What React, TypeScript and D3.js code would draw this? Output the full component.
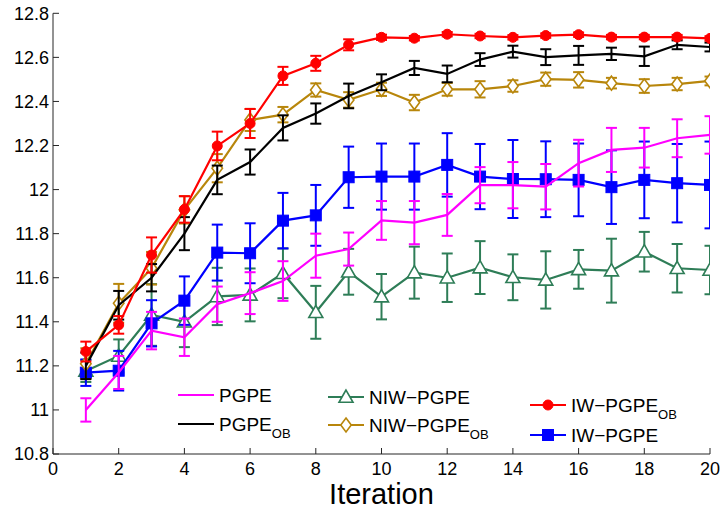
import React from "react";
import * as d3 from "d3";

const iterations = [1, 2, 3, 4, 5, 6, 7, 8, 9, 10, 11, 12, 13, 14, 15, 16, 17, 18, 19, 20];

const pgpe = [11.0, 11.17, 11.36, 11.33, 11.48, 11.53, 11.585, 11.7, 11.73, 11.86, 11.85, 11.885, 12.02, 12.02, 12.013, 12.12, 12.18, 12.19, 12.233, 12.248];
const pgpeErr = [0.053, 0.075, 0.085, 0.085, 0.08, 0.095, 0.09, 0.1, 0.075, 0.088, 0.098, 0.095, 0.082, 0.105, 0.103, 0.106, 0.1, 0.09, 0.086, 0.085];

const pgpeOB = [11.2, 11.475, 11.6, 11.8, 12.044, 12.125, 12.28, 12.345, 12.425, 12.487, 12.552, 12.525, 12.59, 12.626, 12.601, 12.609, 12.616, 12.605, 12.657, 12.647];
const pgpeOBErr = [0.06, 0.065, 0.062, 0.075, 0.065, 0.057, 0.057, 0.046, 0.056, 0.036, 0.032, 0.038, 0.029, 0.027, 0.036, 0.043, 0.028, 0.044, 0.02, 0.02];

const niwPgpe = [11.177, 11.245, 11.431, 11.4, 11.515, 11.522, 11.62, 11.443, 11.627, 11.514, 11.623, 11.6, 11.646, 11.602, 11.59, 11.638, 11.632, 11.718, 11.643, 11.635];
const niwPgpeErr = [0.05, 0.075, 0.14, 0.115, 0.13, 0.12, 0.113, 0.12, 0.104, 0.103, 0.118, 0.11, 0.12, 0.104, 0.13, 0.088, 0.145, 0.09, 0.11, 0.11];

const niwPgpeOB = [11.21, 11.484, 11.643, 11.908, 12.097, 12.316, 12.34, 12.452, 12.407, 12.455, 12.395, 12.455, 12.455, 12.47, 12.501, 12.498, 12.483, 12.47, 12.479, 12.493];
const niwPgpeOBErr = [0.07, 0.088, 0.074, 0.062, 0.064, 0.05, 0.035, 0.03, 0.035, 0.03, 0.035, 0.029, 0.037, 0.026, 0.03, 0.035, 0.024, 0.031, 0.028, 0.02];

const iwPgpeOB = [11.265, 11.386, 11.703, 11.91, 12.198, 12.3, 12.516, 12.573, 12.657, 12.691, 12.687, 12.705, 12.697, 12.691, 12.699, 12.703, 12.692, 12.692, 12.692, 12.686];
const iwPgpeOBErr = [0.045, 0.04, 0.08, 0.06, 0.065, 0.066, 0.041, 0.034, 0.025, 0.012, 0.01, 0.01, 0.01, 0.01, 0.01, 0.01, 0.01, 0.01, 0.01, 0.01];

const iwPgpe = [11.169, 11.178, 11.393, 11.496, 11.714, 11.711, 11.859, 11.883, 12.056, 12.059, 12.059, 12.112, 12.059, 12.048, 12.047, 12.044, 12.011, 12.044, 12.029, 12.021];
const iwPgpeErr = [0.06, 0.09, 0.105, 0.11, 0.127, 0.136, 0.126, 0.138, 0.139, 0.15, 0.15, 0.144, 0.148, 0.177, 0.172, 0.165, 0.167, 0.174, 0.178, 0.197];

const xTicks = [0, 2, 4, 6, 8, 10, 12, 14, 16, 18, 20];
const yTicks = [10.8, 11, 11.2, 11.4, 11.6, 11.8, 12, 12.2, 12.4, 12.6, 12.8];

type Marker = "none" | "circle" | "square" | "triangle" | "diamond";
interface Series { name: string; sub?: string; values: number[]; errs: number[]; color: string; marker: Marker; }

const MAGENTA = "#ff00ff";
const BLACK = "#000000";
const GREEN = "#2e7d57";
const GOLD = "#b8860b";
const RED = "#ff0000";
const BLUE = "#0000ff";

const series: Series[] = [
  { name: "NIW−PGPE", values: niwPgpe, errs: niwPgpeErr, color: GREEN, marker: "triangle" },
  { name: "IW−PGPE", values: iwPgpe, errs: iwPgpeErr, color: BLUE, marker: "square" },
  { name: "PGPE", values: pgpe, errs: pgpeErr, color: MAGENTA, marker: "none" },
  { name: "NIW−PGPE", sub: "OB", values: niwPgpeOB, errs: niwPgpeOBErr, color: GOLD, marker: "diamond" },
  { name: "PGPE", sub: "OB", values: pgpeOB, errs: pgpeOBErr, color: BLACK, marker: "none" },
  { name: "IW−PGPE", sub: "OB", values: iwPgpeOB, errs: iwPgpeOBErr, color: RED, marker: "circle" },
];

const W = 721, H = 509;
const X0 = 53, X1 = 710, Y0 = 454, Y1 = 13.3;
const FONT = "'Liberation Sans', Arial, Helvetica, sans-serif";

function MarkerShape({ type, cx, cy, color }: { type: Marker; cx: number; cy: number; color: string }) {
  if (type === "circle") return <circle cx={cx} cy={cy} r={5} fill={color} stroke={color} strokeWidth={1} />;
  if (type === "square") return <rect x={cx - 5.5} y={cy - 5.5} width={11} height={11} fill={color} stroke={color} strokeWidth={1} />;
  if (type === "triangle") {
    const s = 7;
    return <polygon points={`${cx},${cy - s} ${cx - s},${cy + s * 0.75} ${cx + s},${cy + s * 0.75}`} fill="#fff" stroke={color} strokeWidth={1.6} />;
  }
  if (type === "diamond") {
    const s = 7;
    return <polygon points={`${cx},${cy - s} ${cx + s * 0.75},${cy} ${cx},${cy + s} ${cx - s * 0.75},${cy}`} fill="#fff" stroke={color} strokeWidth={1.6} />;
  }
  return null;
}

export default function App() {
  const x = d3.scaleLinear().domain([0, 20]).range([X0, X1]);
  const y = d3.scaleLinear().domain([10.8, 12.8]).range([Y0, Y1]);
  const line = d3.line<number>().x((_, i) => x(iterations[i])).y((v) => y(v));
  const cap = 5.5;
  const fmt = (v: number) => String(Math.round(v * 10) / 10);

  const legend = [
    { s: series[2], lx: 178, ly: 395 },
    { s: series[4], lx: 178, ly: 424 },
    { s: series[0], lx: 328, ly: 397 },
    { s: series[3], lx: 328, ly: 425 },
    { s: series[5], lx: 530, ly: 405 },
    { s: series[1], lx: 530, ly: 435 },
  ];

  return (
    <svg width={W} height={H} style={{ position: "absolute", left: 0, top: 0, background: "#fff" }} fontFamily={FONT}>
      <defs>
        <clipPath id="plot">
          <rect x={X0} y={0} width={X1 - X0} height={Y0} />
        </clipPath>
      </defs>
      <rect x={0} y={0} width={W} height={H} fill="#fff" />
      <g clipPath="url(#plot)">
        {series.map((s, si) => (
          <g key={si}>
            {s.values.map((v, i) => {
              const cx = x(iterations[i]);
              const t = y(v + s.errs[i]);
              const b = y(v - s.errs[i]);
              return (
                <g key={i} stroke={s.color} strokeWidth={2}>
                  <line x1={cx} x2={cx} y1={t} y2={b} />
                  <line x1={cx - cap} x2={cx + cap} y1={t} y2={t} />
                  <line x1={cx - cap} x2={cx + cap} y1={b} y2={b} />
                </g>
              );
            })}
            <path d={line(s.values) || ""} fill="none" stroke={s.color} strokeWidth={2.2} />
            {s.values.map((v, i) => (
              <MarkerShape key={i} type={s.marker} cx={x(iterations[i])} cy={y(v)} color={s.color} />
            ))}
          </g>
        ))}
      </g>
      {/* axes */}
      <g stroke="#262626" strokeWidth={1}>
        <line x1={X0} x2={X0} y1={Y1} y2={Y0} />
        <line x1={X0} x2={X1} y1={Y0} y2={Y0} />
        {yTicks.map((t) => (
          <line key={t} x1={X0} x2={X0 + 6} y1={y(t)} y2={y(t)} />
        ))}
        {xTicks.map((t) => (
          <line key={t} x1={x(t)} x2={x(t)} y1={Y0} y2={Y0 - 6} />
        ))}
      </g>
      {yTicks.map((t) => (
        <text key={t} x={X0 - 4} y={y(t)} dy="0.36em" textAnchor="end" fontSize={18} fill="#000">
          {fmt(t)}
        </text>
      ))}
      {xTicks.map((t) => (
        <text key={t} x={x(t)} y={475} textAnchor="middle" fontSize={18} fill="#000">
          {fmt(t)}
        </text>
      ))}
      <text x={(X0 + X1) / 2} y={504} textAnchor="middle" fontSize={29} fill="#000">
        Iteration
      </text>
      {/* legend */}
      {legend.map(({ s, lx, ly }, i) => (
        <g key={i}>
          <line x1={lx} x2={lx + 36} y1={ly} y2={ly} stroke={s.color} strokeWidth={2.2} />
          <MarkerShape type={s.marker} cx={lx + 18} cy={ly} color={s.color} />
          <text x={lx + 41} y={ly} dy="0.36em" fontSize={19} fill="#000">
            {s.name}
            {s.sub ? (
              <tspan fontSize={13} dy="0.55em">{s.sub}</tspan>
            ) : null}
          </text>
        </g>
      ))}
    </svg>
  );
}
